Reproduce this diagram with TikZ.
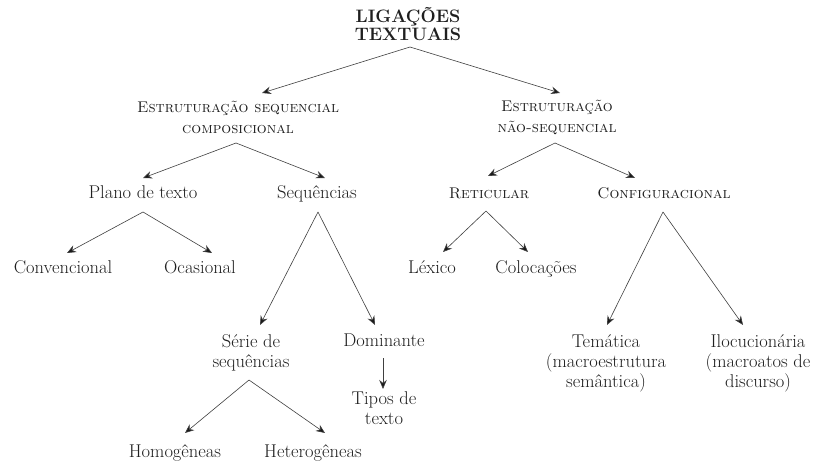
\documentclass[tikz,border=0pt]{standalone}
\usepackage{fontspec}
\usetikzlibrary{arrows.meta}
\begin{document}
\begin{tikzpicture}[x=1pt,y=-1pt,
  ml/.style={inner sep=0pt,align=center,text=black!88,
    font=\fontsize{18.5}{20}\selectfont},
  lbl/.style={ml,text height=12pt,text depth=4pt},
  sc/.style={lbl,font=\fontsize{15.5}{21}\selectfont\scshape\addfontfeature{FakeBold=0.6}},
  scml/.style={ml,font=\fontsize{15.5}{21}\selectfont\scshape\addfontfeature{FakeBold=0.6}},
  conn/.style={draw=black!75,line width=0.6pt,
    -{Stealth[length=9pt,width=7.5pt,fill=black!90]}}]
\useasboundingbox[fill=white] (0,0) rectangle (820,465);

% nodes
\node[ml,font=\fontsize{18}{18.5}\selectfont\bfseries] (top) at (408,24) {LIGAÇÕES\\TEXTUAIS};
\node[scml] (esc) at (238,117) {Estruturação sequencial\\composicional};
\node[scml] (ens) at (557,117) {Estruturação\\não-sequencial};
\node[lbl] (plano) at (143,195) {Plano de texto};
\node[lbl] (seq) at (317,195) {Sequências};
\node[sc] (ret) at (489,195) {Reticular};
\node[sc] (conf) at (664,195) {Configuracional};
\node[lbl] (conv) at (63,270) {Convencional};
\node[lbl] (ocas) at (200,270) {Ocasional};
\node[lbl] (lex) at (432,270) {Léxico};
\node[lbl] (coloc) at (536,270) {Colocações};
\node[ml] (serie) at (251,353) {Série de\\sequências};
\node[lbl] (dom) at (384,343) {Dominante};
\node[ml] (tipos) at (384,408) {Tipos de\\texto};
\node[ml] (tem) at (606,363) {Temática\\(macroestrutura\\semântica)};
\node[ml] (iloc) at (758,363) {Ilocucionária\\(macroatos de\\discurso)};
\node[lbl] (homo) at (175,453) {Homogêneas};
\node[lbl] (hetero) at (313,453) {Heterogêneas};

% branching points and arrow ends
\coordinate (a0) at (410,47);
\coordinate (t0l) at (262,93);
\coordinate (t0r) at (560,93);
\coordinate (aesc) at (236,143);
\coordinate (tescl) at (143,178);
\coordinate (tescr) at (325,178);
\coordinate (aens) at (555,143);
\coordinate (tensl) at (488,176);
\coordinate (tensr) at (635,178);
\coordinate (apl) at (143,212);
\coordinate (tpll) at (67,253);
\coordinate (tplr) at (212,253);
\coordinate (aseq) at (318,212);
\coordinate (tseql) at (260,325);
\coordinate (tseqr) at (375,325);
\coordinate (aret) at (486,211);
\coordinate (tretl) at (443,252);
\coordinate (tretr) at (528,252);
\coordinate (aconf) at (663,212);
\coordinate (tconfl) at (607,325);
\coordinate (tconfr) at (743,325);
\coordinate (aser) at (249,380);
\coordinate (tserl) at (185,433);
\coordinate (tserr) at (325,433);
\coordinate (adom) at (383,358);
\coordinate (tdom) at (383,389);

% connectors
\draw[conn] (a0) -- (t0l);
\draw[conn] (a0) -- (t0r);
\draw[conn] (aesc) -- (tescl);
\draw[conn] (aesc) -- (tescr);
\draw[conn] (aens) -- (tensl);
\draw[conn] (aens) -- (tensr);
\draw[conn] (apl) -- (tpll);
\draw[conn] (apl) -- (tplr);
\draw[conn] (aseq) -- (tseql);
\draw[conn] (aseq) -- (tseqr);
\draw[conn] (aret) -- (tretl);
\draw[conn] (aret) -- (tretr);
\draw[conn] (aconf) -- (tconfl);
\draw[conn] (aconf) -- (tconfr);
\draw[conn] (aser) -- (tserl);
\draw[conn] (aser) -- (tserr);
\draw[conn] (adom) -- (tdom);
\end{tikzpicture}
\end{document}
